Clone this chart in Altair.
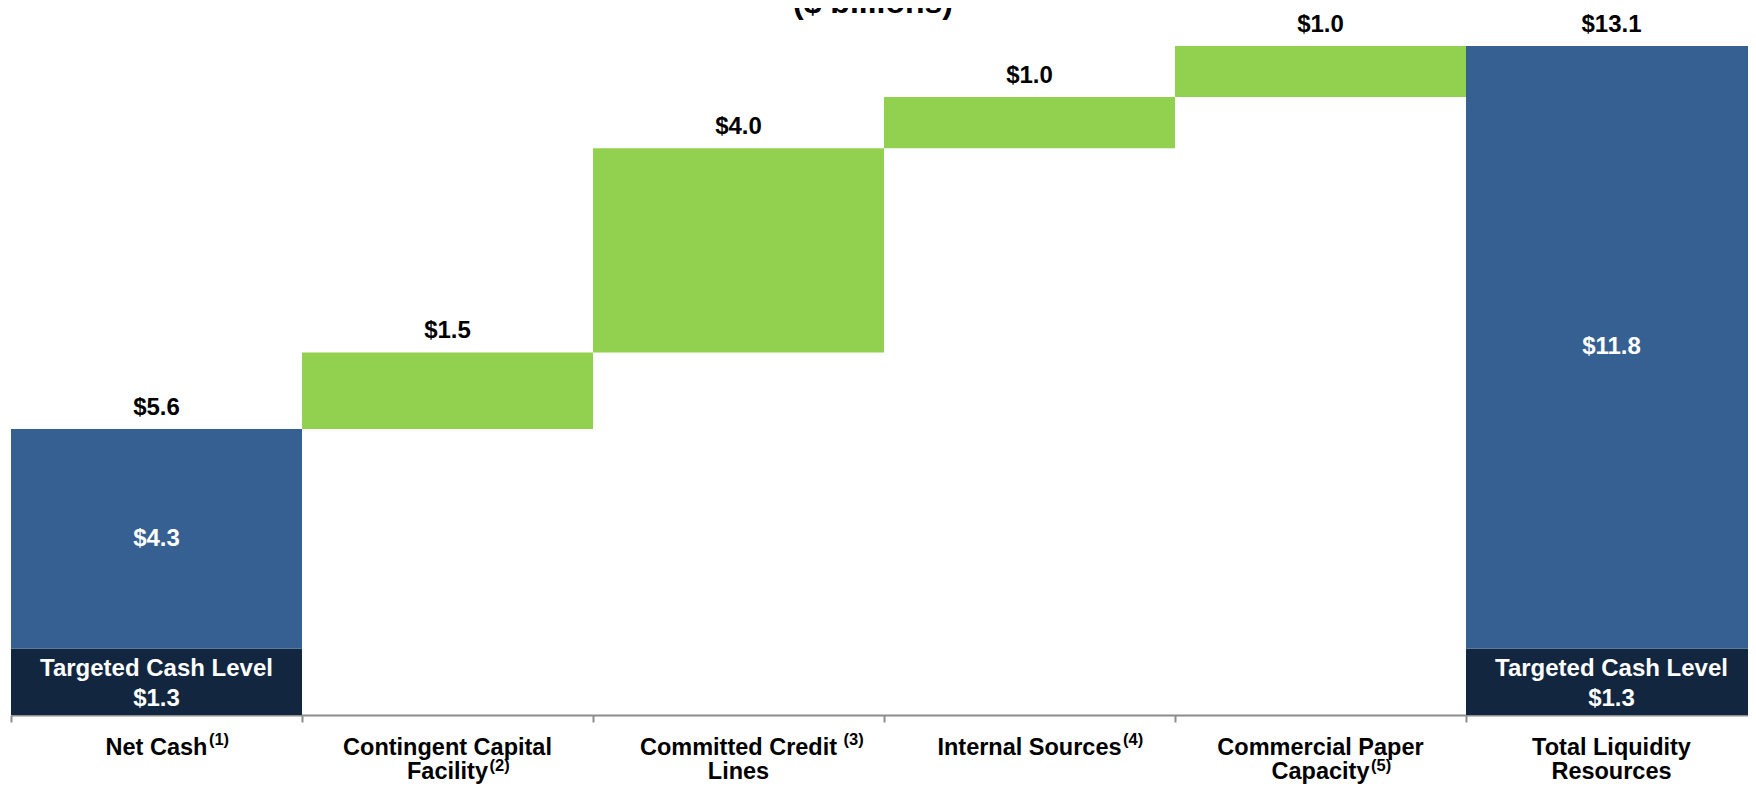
import altair as alt
import pandas as pd

FONT = "Liberation Sans, Arial, Helvetica, sans-serif"

# ---------------- data ----------------
categories = [
    "Net Cash",
    "Contingent Capital Facility",
    "Committed Credit Lines",
    "Internal Sources",
    "Commercial Paper Capacity",
    "Total Liquidity Resources",
]
label_lines = [
    ["Net Cash"],
    ["Contingent Capital", "Facility"],
    ["Committed Credit", "Lines"],
    ["Internal Sources"],
    ["Commercial Paper", "Capacity"],
    ["Total Liquidity", "Resources"],
]
footnotes = ["(1)", "(2)", "(3)", "(4)", "(5)", ""]
footnote_line = [0, 1, 0, 0, 1, 0]
footnote_space = [False, False, True, False, False, False]

increments = [5.6, 1.5, 4.0, 1.0, 1.0]   # net cash, then additions
total = 13.1
targeted = 1.3
title_text = "($ billions)"
targeted_text = "Targeted Cash Level"

C_TARGET = "#13263F"
C_CASH = "#376092"
C_ADD = "#92D050"

# ---------------- tables ----------------
rows = []
rows.append(dict(cat=categories[0], y0=0.0, y1=targeted, kind="Targeted"))
rows.append(dict(cat=categories[0], y0=targeted, y1=increments[0], kind="Cash"))
cum = increments[0]
tops = [cum]
for c, inc in zip(categories[1:5], increments[1:]):
    rows.append(dict(cat=c, y0=cum, y1=cum + inc, kind="Add"))
    cum += inc
    tops.append(cum)
rows.append(dict(cat=categories[5], y0=0.0, y1=targeted, kind="Targeted"))
rows.append(dict(cat=categories[5], y0=targeted, y1=total, kind="Cash"))
tops.append(total)
seg = pd.DataFrame(rows)

top_vals = increments + [total]
top_df = pd.DataFrame(dict(cat=categories, top=tops,
                           text=[f"${v:.1f}" for v in top_vals]))

inner_df = pd.DataFrame(dict(
    cat=[categories[0], categories[5]],
    mid=[(targeted + increments[0]) / 2, (targeted + total) / 2],
    text=[f"${increments[0] - targeted:.1f}", f"${total - targeted:.1f}"],
))
target_df = pd.DataFrame(dict(
    cat=[categories[0], categories[5]],
    mid=[targeted / 2, targeted / 2],
    text=[f"{targeted_text}\n${targeted:.1f}"] * 2,
))
xlab_df = pd.DataFrame(dict(cat=categories, text=["\n".join(l) for l in label_lines]))
title_df = pd.DataFrame(dict(text=[title_text]))

# Arial/Liberation Sans Bold advance widths (per 1000 em)
W = {' ': 278, '(': 333, ')': 333, '$': 556, '.': 278,
     'A': 722, 'C': 722, 'F': 611, 'I': 278, 'L': 611, 'N': 722, 'P': 667,
     'R': 722, 'S': 667, 'T': 611,
     'a': 556, 'c': 556, 'd': 611, 'e': 556, 'g': 611, 'h': 611, 'i': 278,
     'l': 278, 'm': 889, 'n': 611, 'o': 611, 'p': 611, 'q': 611, 'r': 389,
     's': 556, 't': 333, 'u': 611, 'v': 556, 'y': 556}
for d in "0123456789":
    W[d] = 556


def text_width(s, size):
    return sum(W.get(ch, 556) for ch in s) * size / 1000.0


# ---------------- layout constants ----------------
PLOT_W = 1737
PLOT_H = 669
BAND_RANGE = 1746
LAB_SIZE = 23.5
LAB_Y = 709
LAB_LH = 24
SUP_SIZE = 16.5

xscale = alt.Scale(domain=categories, paddingInner=0, paddingOuter=0,
                   range=[0, BAND_RANGE])
xenc = alt.X("cat:N", sort=categories, scale=xscale)
yscale = alt.Scale(domain=[0, total], nice=False, zero=True)

bars = alt.Chart(seg).mark_bar(strokeWidth=0).encode(
    x=alt.X("cat:N", sort=categories, scale=xscale,
            axis=alt.Axis(title=None, labels=False, domain=True, domainColor="#8C8C8C",
                          domainWidth=2, ticks=True, tickBand="extent", tickSize=7,
                          tickColor="#8C8C8C", tickWidth=2, grid=False)),
    y=alt.Y("y0:Q", scale=yscale, axis=None),
    y2="y1:Q",
    color=alt.Color("kind:N", legend=None,
                    scale=alt.Scale(domain=["Targeted", "Cash", "Add"],
                                    range=[C_TARGET, C_CASH, C_ADD])),
)

top_text = alt.Chart(top_df).mark_text(
    font=FONT, fontSize=24, fontWeight="bold", color="black",
    baseline="alphabetic", dy=-14,
).encode(x=xenc, y=alt.Y("top:Q", scale=yscale), text="text:N")

inner_text = alt.Chart(inner_df).mark_text(
    font=FONT, fontSize=24, fontWeight="bold", color="white", baseline="middle",
).encode(x=xenc, y=alt.Y("mid:Q", scale=yscale), text="text:N")

target_text = alt.Chart(target_df).mark_text(
    font=FONT, fontSize=24, fontWeight="bold", color="white", baseline="middle",
    lineBreak="\n", lineHeight=30, dy=-13,
).encode(x=xenc, y=alt.Y("mid:Q", scale=yscale), text="text:N")

xlabels = alt.Chart(xlab_df).mark_text(
    font=FONT, fontSize=LAB_SIZE, fontWeight="bold", color="black",
    baseline="alphabetic", lineBreak="\n", lineHeight=LAB_LH,
).encode(x=xenc, y=alt.value(LAB_Y), text="text:N")

title_mark = alt.Chart(title_df).mark_text(
    font=FONT, fontSize=32, fontWeight="bold", color="black",
    baseline="alphabetic", align="center",
).encode(x=alt.value(BAND_RANGE / 2 - 11), y=alt.value(-33), text="text:N")

layers = [bars, top_text, inner_text, target_text, xlabels, title_mark]

for i, fn in enumerate(footnotes):
    if not fn:
        continue
    line = label_lines[i][footnote_line[i]]
    gap = text_width(" ", LAB_SIZE) if footnote_space[i] else 1.5
    dx = text_width(line, LAB_SIZE) / 2 + gap
    raise_px = 10 if footnote_line[i] == 0 else 8
    sup = alt.Chart(pd.DataFrame(dict(cat=[categories[i]], text=[fn]))).mark_text(
        font=FONT, fontSize=SUP_SIZE, fontWeight="bold", color="black",
        baseline="alphabetic", align="left", dx=dx,
    ).encode(x=xenc, y=alt.value(LAB_Y + LAB_LH * footnote_line[i] - raise_px),
             text="text:N")
    layers.append(sup)

chart = alt.layer(*layers).properties(
    width=PLOT_W,
    height=PLOT_H,
    autosize=alt.AutoSizeParams(type="none"),
    padding={"left": 3, "top": 38, "right": 0, "bottom": 70},
).configure_view(stroke=None)

chart.save("out.html", embed_options={"renderer": "svg", "actions": False})
